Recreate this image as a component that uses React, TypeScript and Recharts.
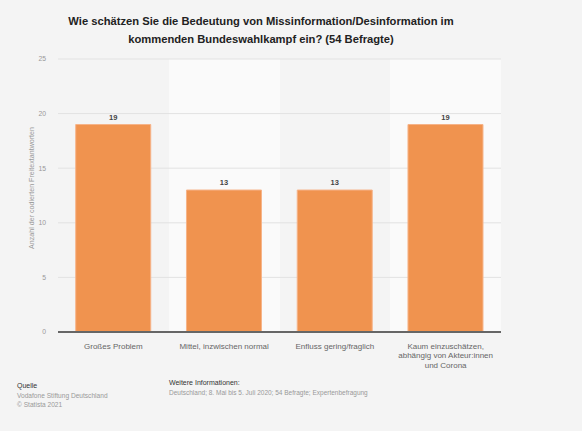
import React from "react";
import { BarChart, Bar, XAxis, YAxis, CartesianGrid, LabelList } from "recharts";

const categories = [
  "Großes Problem",
  "Mittel, inzwischen normal",
  "Enfluss gering/fraglich",
  "Kaum einzuschätzen,\nabhängig von Akteur:innen\nund Corona",
];
const values = [19, 13, 13, 19];
const yTicks = [0, 5, 10, 15, 20, 25];

const titleLines = [
  "Wie schätzen Sie die Bedeutung von Missinformation/Desinformation im",
  "kommenden Bundeswahlkampf ein? (54 Befragte)",
];
const yLabel = "Anzahl der codierten Freitextantworten";
const sourceLines = ["Vodafone Stiftung Deutschland", "© Statista 2021"];
const infoText = "Deutschland; 8. Mai bis 5. Juli 2020; 54 Befragte; Expertenbefragung";

const data = categories.map((c, i) => ({ name: c, value: values[i] }));

const FONT = "'Liberation Sans', Arial, Helvetica, sans-serif";

const CategoryTick = (props: any) => {
  const { x, y, payload } = props;
  const lines = String(payload.value).split("\n");
  return (
    <g transform={`translate(${x},${y})`}>
      <text textAnchor="middle" fill="#666" fontSize={8} fontFamily={FONT}>
        {lines.map((l, i) => (
          <tspan key={i} x={0} dy={i === 0 ? 15 : 9.4}>
            {l}
          </tspan>
        ))}
      </text>
    </g>
  );
};

export default function App() {
  return (
    <div
      style={{
        position: "absolute",
        left: 0,
        top: 0,
        width: 582,
        height: 431,
        background: "#f4f4f4",
        fontFamily: FONT,
        overflow: "hidden",
      }}
    >
      <div
        style={{
          position: "absolute",
          left: 0,
          top: 12,
          width: 522,
          textAlign: "center",
          fontWeight: "bold",
          fontSize: 11.2,
          lineHeight: "18px",
          color: "#222",
        }}
      >
        {titleLines.map((t, i) => (
          <div key={i}>{t}</div>
        ))}
      </div>
      <div
        style={{
          position: "absolute",
          left: 32,
          top: 188,
          transform: "translate(-50%, -50%) rotate(-90deg)",
          whiteSpace: "nowrap",
          fontSize: 7.1,
          lineHeight: "8px",
          color: "#999",
        }}
      >
        {yLabel}
      </div>
      <BarChart
        width={582}
        height={431}
        data={data}
        margin={{ top: 59, right: 81, bottom: 39, left: 0 }}
        barCategoryGap="16%"
      >
        <CartesianGrid
          horizontal={false}
          vertical={true}
          stroke="none"
          verticalFill={["#f4f4f4", "#fafafa"]}
          verticalCoordinatesGenerator={({ offset }: any) =>
            categories.map((_, i) => offset.left + (i * offset.width) / categories.length)
          }
        />
        <CartesianGrid vertical={false} stroke="#e2e2e2" />
        <XAxis
          dataKey="name"
          height={60}
          axisLine={{ stroke: "#666", strokeWidth: 2 }}
          tickLine={false}
          tickSize={0}
          interval={0}
          tick={<CategoryTick />}
        />
        <YAxis
          width={58}
          domain={[0, 25]}
          ticks={yTicks}
          axisLine={false}
          tickLine={false}
          tickSize={0}
          tickMargin={12}
          tick={{ fill: "#999", fontSize: 6.8, fontFamily: FONT }}
        />
        <Bar dataKey="value" fill="#F0934F" stroke="#f6b388" strokeWidth={1} isAnimationActive={false}>
          <LabelList
            dataKey="value"
            position="top"
            offset={5}
            fill="#444"
            fontSize={7.5}
            fontWeight="bold"
            fontFamily={FONT}
          />
        </Bar>
      </BarChart>
      <div style={{ position: "absolute", left: 17, top: 381, fontSize: 6.6, lineHeight: "9.5px" }}>
        <div style={{ color: "#333", fontSize: 7 }}>Quelle</div>
        {sourceLines.map((s, i) => (
          <div key={i} style={{ color: "#999" }}>
            {s}
          </div>
        ))}
      </div>
      <div style={{ position: "absolute", left: 169, top: 378, fontSize: 6.5, lineHeight: "10px" }}>
        <div style={{ color: "#333", fontSize: 7 }}>Weitere Informationen:</div>
        <div style={{ color: "#999" }}>{infoText}</div>
      </div>
    </div>
  );
}
